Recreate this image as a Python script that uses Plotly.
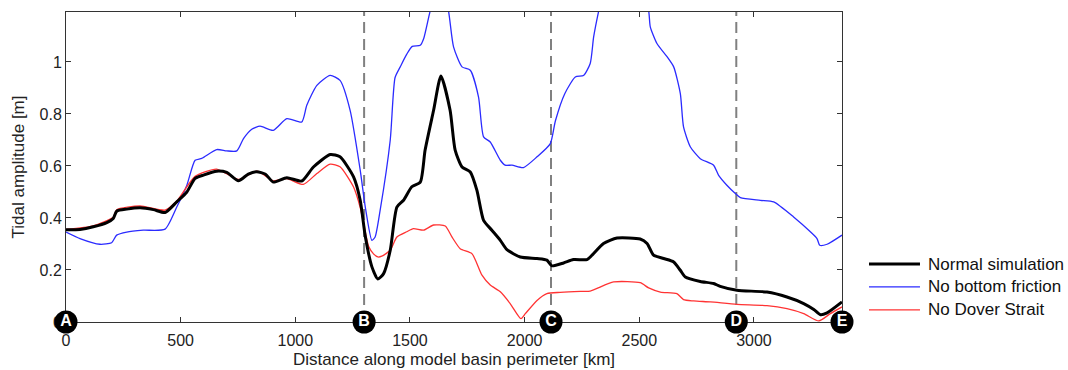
import plotly.graph_objects as go

# ---- data (km, m) ----
normal_x = [0, 61, 119, 178, 206, 221, 265, 323, 381, 432, 483, 527, 563, 599, 657, 701, 752, 795, 832, 870,
            904, 963, 1028, 1079, 1152, 1195, 1254, 1283, 1305, 1334, 1360, 1385, 1414, 1443, 1472, 1508, 1545,
            1566, 1603, 1635, 1675, 1697, 1727, 1763, 1792, 1821, 1857, 1894, 1923, 1981, 2054, 2097, 2119, 2170,
            2213, 2272, 2294, 2344, 2403, 2504, 2534, 2562, 2606, 2650, 2679, 2701, 2766, 2824, 2853, 2926, 3057,
            3144, 3217, 3261, 3290, 3319, 3384]
normal_y = [0.355, 0.356, 0.366, 0.382, 0.398, 0.426, 0.434, 0.439, 0.432, 0.421, 0.462, 0.5, 0.552, 0.565, 0.58,
            0.575, 0.543, 0.569, 0.578, 0.568, 0.538, 0.555, 0.542, 0.596, 0.644, 0.635, 0.558, 0.468, 0.33, 0.212,
            0.165, 0.186, 0.276, 0.442, 0.468, 0.52, 0.538, 0.661, 0.814, 0.946, 0.814, 0.661, 0.596, 0.577, 0.506,
            0.391, 0.353, 0.314, 0.278, 0.25, 0.244, 0.238, 0.216, 0.227, 0.24, 0.24, 0.257, 0.302, 0.323, 0.319,
            0.302, 0.257, 0.244, 0.231, 0.199, 0.173, 0.156, 0.148, 0.137, 0.122, 0.115, 0.096, 0.071, 0.048, 0.028,
            0.035, 0.077]

friction_x = [0, 61, 148, 199, 221, 265, 337, 432, 483, 527, 563, 592, 657, 701, 745, 774, 810, 846, 904, 963,
              1028, 1050, 1094, 1152, 1195, 1239, 1283, 1305, 1334, 1348, 1370, 1414, 1435, 1457, 1486, 1510, 1545,
              1560, 1588, 1630, 1668, 1690, 1727, 1763, 1799, 1821, 1850, 1894, 1915, 1945, 1995, 2054, 2112, 2134,
              2175, 2221, 2257, 2286, 2301, 2323, 2430, 2541, 2548, 2577, 2621, 2650, 2679, 2693, 2723, 2766, 2824,
              2846, 2882, 2919, 2941, 3028, 3086, 3173, 3246, 3275, 3287, 3319, 3384]
friction_y = [0.346, 0.321, 0.299, 0.305, 0.334, 0.346, 0.353, 0.357, 0.442, 0.526, 0.622, 0.629, 0.663, 0.658,
              0.658, 0.705, 0.741, 0.753, 0.737, 0.782, 0.769, 0.833, 0.91, 0.948, 0.929, 0.814, 0.584, 0.443, 0.314,
              0.327, 0.43, 0.7, 0.94, 0.98, 1.03, 1.06, 1.064, 1.09, 1.196, 1.33, 1.196, 1.058, 0.981, 0.968, 0.865,
              0.712, 0.692, 0.622, 0.603, 0.603, 0.594, 0.635, 0.686, 0.773, 0.878, 0.942, 0.948, 0.994, 1.096, 1.196,
              1.6, 1.196, 1.135, 1.071, 1.02, 0.981, 0.878, 0.75, 0.673, 0.628, 0.603, 0.564, 0.526, 0.494, 0.478,
              0.468, 0.462, 0.404, 0.347, 0.321, 0.295, 0.299, 0.334]

dover_x = [0, 119, 206, 221, 323, 432, 483, 563, 657, 752, 832, 904, 963, 1035, 1094, 1152, 1195, 1254, 1283,
           1300, 1320, 1341, 1360, 1377, 1414, 1443, 1486, 1515, 1559, 1603, 1654, 1683, 1719, 1770, 1814, 1850,
           1894, 1937, 1984, 2003, 2054, 2097, 2155, 2243, 2286, 2388, 2504, 2541, 2592, 2664, 2693, 2737, 2810,
           2926, 3057, 3144, 3217, 3283, 3333, 3384]
dover_y = [0.356, 0.37, 0.403, 0.432, 0.446, 0.43, 0.465, 0.56, 0.588, 0.548, 0.58, 0.543, 0.551, 0.529, 0.571,
           0.607, 0.597, 0.519, 0.44, 0.37, 0.29, 0.262, 0.25, 0.253, 0.276, 0.327, 0.347, 0.359, 0.353, 0.373,
           0.369, 0.327, 0.282, 0.263, 0.18, 0.142, 0.116, 0.071, 0.013, 0.032, 0.083, 0.109, 0.114, 0.118, 0.119,
           0.154, 0.151, 0.131, 0.115, 0.109, 0.086, 0.081, 0.077, 0.068, 0.063, 0.051, 0.032, 0.004, 0.032, 0.058]

station_labels = ["A", "B", "C", "D", "E"]
station_x = [0, 1300, 2115, 2923, 3384]
dashed_stations = [1300, 2115, 2923]

x_ticks = [0, 500, 1000, 1500, 2000, 2500, 3000]
y_ticks = [0, 0.2, 0.4, 0.6, 0.8, 1]
y_ticktext = ["0", "0.2", "0.4", "0.6", "0.8", "1"]

legend_names = ["Normal simulation", "No bottom friction", "No Dover Strait"]
legend_colors = ["#000000", "#2b2bff", "#ff3333"]
legend_widths = [3, 1.3, 1.3]

FONT = "Liberation Sans, Arial, Helvetica, sans-serif"

fig = go.Figure()
for sx in dashed_stations:
    fig.add_shape(type="line", xref="x", yref="paper", x0=sx, x1=sx, y0=0, y1=1,
                  line=dict(color="#808080", width=2, dash="11px,6px"), layer="below")

fig.add_trace(go.Scatter(x=friction_x, y=friction_y, mode="lines", name=legend_names[1],
                         line=dict(color=legend_colors[1], width=legend_widths[1], shape="spline", smoothing=0.6),
                         showlegend=False))
fig.add_trace(go.Scatter(x=dover_x, y=dover_y, mode="lines", name=legend_names[2],
                         line=dict(color=legend_colors[2], width=legend_widths[2], shape="spline", smoothing=0.6),
                         showlegend=False))
fig.add_trace(go.Scatter(x=normal_x, y=normal_y, mode="lines", name=legend_names[0],
                         line=dict(color=legend_colors[0], width=legend_widths[0], shape="spline", smoothing=0.6),
                         showlegend=False))

fig.add_trace(go.Scatter(x=station_x, y=[0] * len(station_x), mode="markers+text", text=station_labels,
                         textposition="middle center", cliponaxis=False, showlegend=False,
                         marker=dict(size=23, color="black", line=dict(width=0)),
                         textfont=dict(color="white", size=16, family=FONT, weight="bold"),
                         hoverinfo="skip"))

# manual legend
ly = [0.187, 0.113, 0.039]
for i, name in enumerate(legend_names):
    fig.add_shape(type="line", xref="paper", yref="paper", x0=1.0348, x1=1.1005, y0=ly[i], y1=ly[i],
                  line=dict(color=legend_colors[i], width=legend_widths[i]))
    fig.add_annotation(xref="paper", yref="paper", x=1.108, y=ly[i], text=name, showarrow=False,
                       xanchor="left", yanchor="middle", font=dict(family=FONT, size=17, color="#111"))

axis_common = dict(showline=True, linecolor="#333", linewidth=1, mirror="ticks", ticks="inside",
                   ticklen=5, tickcolor="#333", showgrid=False, zeroline=False, layer="below traces",
                   automargin=False, tickfont=dict(family=FONT, size=16, color="#222"))

fig.update_xaxes(range=[0, 3384], tickvals=x_ticks, ticklabelstandoff=4, **axis_common,
                 title=dict(text="Distance along model basin perimeter [km]",
                            font=dict(family=FONT, size=17, color="#222"), standoff=4))
fig.update_yaxes(range=[0, 1.192], tickvals=y_ticks, ticktext=y_ticktext, **axis_common,
                 title=dict(text="Tidal amplitude [m]", font=dict(family=FONT, size=17, color="#222"),
                            standoff=10))

fig.update_layout(width=1068, height=370, margin=dict(l=66, r=226, t=12, b=48),
                  paper_bgcolor="white", plot_bgcolor="white", showlegend=False,
                  font=dict(family=FONT))

fig.write_html("out.html")
